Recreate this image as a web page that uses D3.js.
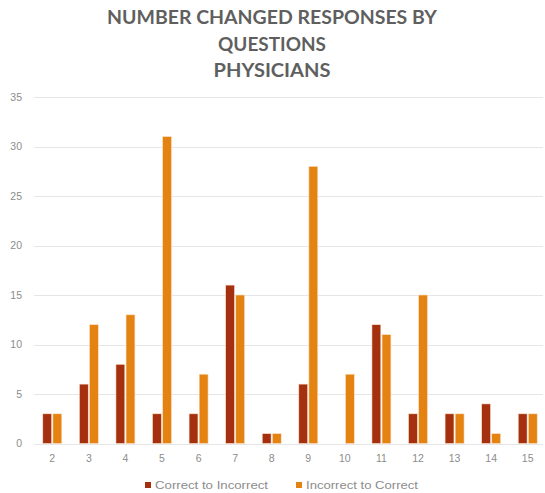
<!DOCTYPE html>
<html><head><meta charset="utf-8">
<script src="https://cdn.jsdelivr.net/npm/d3@7"></script>
<style>body{margin:0;background:#fff}svg{display:block}</style>
</head><body>
<svg id="c" width="545" height="493"></svg>
<script>
const categories = ["2","3","4","5","6","7","8","9","10","11","12","13","14","15"];
const correctToIncorrect = [3,6,8,3,3,16,1,6,0,12,3,3,4,3];
const incorrectToCorrect = [3,12,13,31,7,15,1,28,7,11,15,3,1,3];
const seriesNames = ["Correct to Incorrect","Incorrect to Correct"];
const yTicks = [0,5,10,15,20,25,30,35];
const titleLines = ["NUMBER CHANGED RESPONSES BY","QUESTIONS","PHYSICIANS"];

const colors = ["#A5300F","#E48312"];
const svg = d3.select("#c");
const x = d3.scaleBand().domain(categories).range([34,546]);
const xs = d3.scaleBand().domain([0,1]).range([0,19]).paddingInner(0.12);
const y = d3.scaleLinear().domain([0,35]).range([443.5,97]);

// title
svg.append("g").selectAll("text").data(titleLines).join("text")
  .attr("x",272).attr("y",(d,i)=>24+i*26.5)
  .attr("text-anchor","middle")
  .attr("font-family","Lato, sans-serif").attr("font-weight","bold")
  .attr("font-size",19).attr("fill","#5f5f5f")
  .text(d=>d)
  .each(function(d,i){ const w=[330,108,117][i]; d3.select(this).attr("textLength",w).attr("lengthAdjust","spacingAndGlyphs"); });

// grid
svg.append("g").selectAll("line").data(yTicks).join("line")
  .attr("x1",34).attr("x2",543).attr("y1",d=>Math.round(y(d))+0.5).attr("y2",d=>Math.round(y(d))+0.5)
  .attr("stroke","#e6e6e6").attr("stroke-width",1);

// y axis labels
const yAxis = d3.axisLeft(y).tickValues(yTicks).tickSize(0).tickPadding(0);
const gy = svg.append("g").attr("transform","translate(22,0)").call(yAxis);
gy.select(".domain").remove();
gy.selectAll("text").attr("font-family","'Liberation Sans', sans-serif").attr("font-size",10.5).attr("fill","#8c8c8c");

// x axis labels
const xAxis = d3.axisBottom(x).tickSize(0).tickPadding(0);
const gx = svg.append("g").attr("transform","translate(0,455)").call(xAxis);
gx.select(".domain").remove();
gx.selectAll("text").attr("font-family","'Liberation Sans', sans-serif").attr("font-size",10.5).attr("fill","#8c8c8c");

// bars
const data = categories.map((c,i)=>({c, v:[correctToIncorrect[i], incorrectToCorrect[i]]}));
const groups = svg.append("g").selectAll("g").data(data).join("g")
  .attr("transform",d=>`translate(${x(d.c)+x.bandwidth()/2-9.5},0)`);
groups.selectAll("rect").data(d=>d.v.map((v,k)=>({v,k}))).join("rect")
  .attr("x",d=>xs(d.k)).attr("width",xs.bandwidth())
  .attr("y",d=>y(d.v)).attr("height",d=>y(0)-y(d.v))
  .attr("fill",d=>colors[d.k])
  .attr("stroke","#fbe3cc").attr("stroke-width",d=>d.v>0?0.6:0);

// legend
const leg = svg.append("g");
const lx = [145,296];
const lw = [113,112];
seriesNames.forEach((n,i)=>{
  leg.append("rect").attr("x",lx[i]).attr("y",482).attr("width",6).attr("height",6).attr("fill",colors[i]);
  leg.append("text").attr("x",lx[i]+10).attr("y",489)
    .attr("font-family","'Liberation Sans', sans-serif").attr("font-size",11.5).attr("fill","#8c8c8c")
    .attr("textLength",lw[i]).attr("lengthAdjust","spacingAndGlyphs").text(n);
});
</script>
</body></html>
